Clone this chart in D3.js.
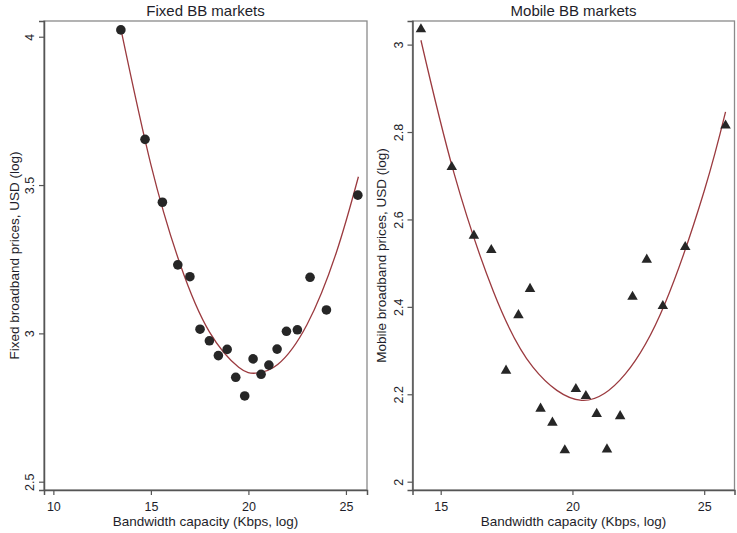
<!DOCTYPE html>
<html>
<head>
<meta charset="utf-8">
<script src="https://cdn.jsdelivr.net/npm/d3@7"></script>
<style>
  html, body { margin: 0; padding: 0; background: #fff; }
  svg { display: block; font-family: "Liberation Sans", Arial, sans-serif; }
</style>
</head>
<body>
<svg id="chart" width="737" height="533"></svg>
<script>
// ---- Data ----
// binned scatter points
const fixedCapacity = [13.46, 14.70, 15.59, 16.38, 17.00, 17.52, 18.00, 18.46, 18.91, 19.35,
                       19.81, 20.24, 20.65, 21.05, 21.47, 21.95, 22.51, 23.16, 24.00, 25.61];
const fixedPrice    = [4.023, 3.654, 3.442, 3.231, 3.191, 3.014, 2.975, 2.925, 2.946, 2.852,
                       2.789, 2.914, 2.862, 2.893, 2.947, 3.007, 3.012, 3.189, 3.079, 3.466];

const mobileCapacity = [14.25, 15.42, 16.26, 16.92, 17.48, 17.95, 18.39, 18.79, 19.24, 19.71,
                        20.13, 20.51, 20.92, 21.31, 21.81, 22.28, 22.82, 23.43, 24.28, 25.81];
const mobilePrice    = [3.035, 2.720, 2.563, 2.530, 2.254, 2.381, 2.441, 2.167, 2.135, 2.072,
                        2.212, 2.196, 2.155, 2.074, 2.150, 2.423, 2.508, 2.402, 2.537, 2.815];

// quadratic fit lines
const fixedFitX  = [13.47, 15.0, 16.5, 18.0, 19.5, 20.4, 21.5, 23.0, 24.5, 25.64];
const fixedFitY  = [4.023, 3.569, 3.233, 3.005, 2.886, 2.866, 2.895, 3.029, 3.271, 3.528];
const mobileFitX = [14.25, 15.5, 17.0, 18.5, 20.35, 22.0, 23.5, 25.0, 25.81];
const mobileFitY = [3.010, 2.707, 2.435, 2.262, 2.186, 2.246, 2.406, 2.665, 2.846];

const fixedXTicks  = [10, 15, 20, 25];
const fixedYTicks  = [2.5, 3, 3.5, 4];
const mobileXTicks = [15, 20, 25];
const mobileYTicks = [2, 2.2, 2.4, 2.6, 2.8, 3];

const panelTitles = ["Fixed BB markets", "Mobile BB markets"];
const yTitles = ["Fixed broadband prices, USD (log)", "Mobile broadband prices, USD (log)"];
const xTitle = "Bandwidth capacity (Kbps, log)";

const svg = d3.select("#chart");
const textColor = "#1e1e2a";
const fitColor = "#9b3a3f";
const markColor = "#262626";

const panels = [
  { xs: fixedCapacity, ys: fixedPrice, fx: fixedFitX, fy: fixedFitY,
    xTicks: fixedXTicks, yTicks: fixedYTicks,
    xDom: [9.52, 26.08], yDom: [2.472, 4.053], left: 44, right: 367, marker: "circle",
    yTitleX: 14, title: panelTitles[0], yTitle: yTitles[0] },
  { xs: mobileCapacity, ys: mobilePrice, fx: mobileFitX, fy: mobileFitY,
    xTicks: mobileXTicks, yTicks: mobileYTicks,
    xDom: [13.93, 26.15], yDom: [1.981, 3.054], left: 412.5, right: 734.5, marker: "triangle",
    yTitleX: 381, title: panelTitles[1], yTitle: yTitles[1] }
];
const plotTop = 21, plotBottom = 490;

panels.forEach(p => {
  const x = d3.scaleLinear().domain(p.xDom).range([p.left, p.right]);
  const y = d3.scaleLinear().domain(p.yDom).range([plotBottom, plotTop]);
  const g = svg.append("g");

  g.append("rect").attr("x", p.left).attr("y", plotTop)
    .attr("width", p.right - p.left).attr("height", plotBottom - plotTop)
    .attr("fill", "none").attr("stroke", "#8a8a8a").attr("stroke-width", 1.3);

  const xAxis = d3.axisBottom(x).tickValues(p.xTicks).tickSize(5).tickPadding(3)
    .tickFormat(d3.format(""));
  const gx = g.append("g").attr("transform", `translate(0,${plotBottom})`).call(xAxis);
  const yAxis = d3.axisLeft(y).tickValues(p.yTicks).tickSize(5).tickPadding(0)
    .tickFormat(d3.format(""));
  const gy = g.append("g").attr("transform", `translate(${p.left},0)`).call(yAxis);

  [gx, gy].forEach(a => {
    a.select(".domain").attr("stroke", "#555").attr("stroke-width", 1.5);
    a.selectAll(".tick line").attr("stroke", "#555").attr("stroke-width", 1.2);
    a.selectAll(".tick text").attr("fill", textColor).style("font-size", "12.5px")
      .style("font-family", '"Liberation Sans", Arial, sans-serif');
  });
  gx.selectAll(".tick text").attr("dy", "0.71em").attr("y", 12);
  gy.selectAll(".tick text")
    .attr("x", null).attr("dy", null)
    .attr("text-anchor", "middle")
    .attr("transform", "translate(-10,0) rotate(-90)")
    .attr("y", 0);

  // fit curve
  const fitPts = p.fx.map((v, i) => [v, p.fy[i]]);
  g.append("path")
    .attr("d", d3.line().x(d => x(d[0])).y(d => y(d[1])).curve(d3.curveNatural)(fitPts))
    .attr("fill", "none").attr("stroke", fitColor).attr("stroke-width", 1.3);

  // markers
  const pts = p.xs.map((v, i) => [v, p.ys[i]]);
  if (p.marker === "circle") {
    g.selectAll("circle.pt").data(pts).join("circle").attr("class", "pt")
      .attr("cx", d => x(d[0])).attr("cy", d => y(d[1])).attr("r", 4.8)
      .attr("fill", markColor);
  } else {
    const tri = d3.symbol().type(d3.symbolTriangle).size(48);
    g.selectAll("path.pt").data(pts).join("path").attr("class", "pt")
      .attr("d", tri).attr("transform", d => `translate(${x(d[0])},${y(d[1])})`)
      .attr("fill", markColor);
  }

  g.append("text").attr("x", (p.left + p.right) / 2).attr("y", 16)
    .attr("text-anchor", "middle").attr("fill", textColor).style("font-size", "15px")
    .text(p.title);
  g.append("text").attr("x", (p.left + p.right) / 2).attr("y", 526)
    .attr("text-anchor", "middle").attr("fill", textColor).style("font-size", "13.5px")
    .text(xTitle);
  g.append("text")
    .attr("transform", `translate(${p.yTitleX + 5},${(plotTop + plotBottom) / 2}) rotate(-90)`)
    .attr("text-anchor", "middle").attr("fill", textColor).style("font-size", "13.5px")
    .text(p.yTitle);
});
</script>
</body>
</html>
